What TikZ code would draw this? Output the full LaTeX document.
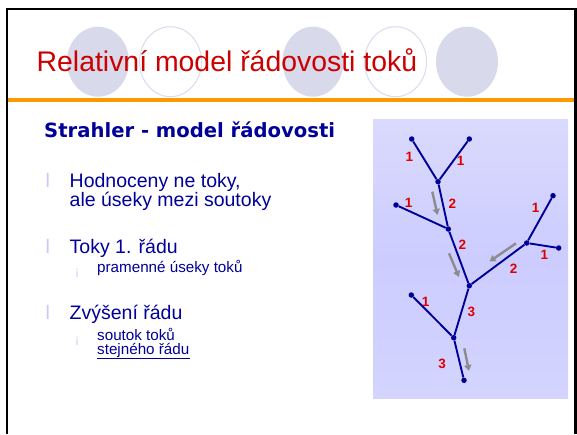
\documentclass[tikz,border=0pt]{standalone}
\usepackage{fontspec}
\setmainfont{Liberation Sans}
\newfontfamily\headfont{DejaVu Sans}
\usetikzlibrary{arrows.meta}
\definecolor{titlered}{RGB}{204,0,0}
\definecolor{txtblue}{RGB}{0,0,153}
\definecolor{treeblue}{RGB}{0,0,153}
\definecolor{lav}{RGB}{217,217,236}
\definecolor{lavline}{RGB}{218,218,240}
\definecolor{bulletc}{RGB}{200,200,250}
\definecolor{orangec}{RGB}{255,153,0}
\definecolor{arrgray}{RGB}{140,140,140}
\definecolor{numred}{RGB}{220,0,0}
\definecolor{sb}{RGB}{220,220,255}
\definecolor{sm}{RGB}{204,204,255}
\definecolor{st}{RGB}{232,232,252}
\pgfdeclareverticalshading{boxshade}{100bp}{color(0bp)=(sb); color(50bp)=(sm); color(100bp)=(st)}
\begin{document}
\begin{tikzpicture}[x=1pt,y=-1pt,
  txt/.style={anchor=base west,inner sep=0,text=txtblue},
  big/.style={txt,font=\fontsize{19.5}{17}\selectfont},
  small/.style={txt,font=\fontsize{15.2}{13}\selectfont},
  bul/.style={anchor=base west,inner sep=0,text=bulletc,font=\fontsize{19.5}{17}\selectfont},
  subbul/.style={anchor=base west,inner sep=0,text=bulletc,font=\fontsize{12}{13}\selectfont},
  dot/.style={circle,fill=treeblue,inner sep=0,minimum size=5.5pt},
  river/.style={draw=treeblue,line width=1.9pt},
  num/.style={text=numred,font=\bfseries\fontsize{13.5}{14}\selectfont,inner sep=0},
  flow/.style={draw=arrgray,line width=2.4pt,-{Triangle[length=6pt,width=7pt]}}]
\useasboundingbox (0,0) rectangle (577,434);
\fill[white] (0,0) rectangle (577,434);
% title circles
\fill[lav] (98,61.7) ellipse [x radius=31, y radius=35];
\draw[lavline,line width=1pt,fill=white] (170.5,61.7) ellipse [x radius=31, y radius=35];
\fill[lav] (313,61.7) ellipse [x radius=30.5, y radius=35];
\draw[lavline,line width=1pt,fill=white] (395.5,61.7) ellipse [x radius=31, y radius=35];
\fill[lav] (467,61.7) ellipse [x radius=31, y radius=35];
% frame
\draw[black,line width=2.5pt] (7,434) -- (7,9) -- (575.5,9) -- (575.5,434);
\draw[orangec,line width=3.5pt] (8.2,99.8) -- (574.2,99.8);
% title
\node[anchor=base west,inner sep=0,text=titlered,font=\fontsize{28.4}{30}\selectfont] (title) at (36.5,71) {Relativní model řádovosti toků};
% left text
\node[txt,font=\headfont\bfseries\fontsize{19.6}{20}\selectfont] (head) at (44,137.7) {Strahler - model řádovosti};
\node[bul] (b1) at (45.5,187) {l};
\node[big,anchor=north west,align=left] (t1) at (69.5,172.9) {Hodnoceny ne toky,\\ale úseky mezi soutoky};
\node[bul] (b2) at (45.5,253) {l};
\node[big] (t2) at (69.5,253) {Toky 1. řádu};
\node[subbul] (s2) at (75,275) {¡};
\node[small] (t2s) at (97,272) {pramenné úseky toků};
\node[bul] (b3) at (45.5,319.5) {l};
\node[big] (t3) at (69.5,319.5) {Zvýšení řádu};
\node[subbul] (s3) at (75,343) {¡};
\node[small] (t3a) at (97,340) {soutok toků};
\node[small] (t3b) at (97,354.2) {stejného řádu};
\draw[txtblue,line width=1.4pt] ([yshift=-4.3pt]t3b.base west) -- ([yshift=-4.3pt]t3b.base east);
% diagram box
\fill[shading=boxshade] (373,119) rectangle (568,398);
% tree nodes
\node[dot] (A) at (411.7,139) {};
\node[dot] (B) at (469.3,139) {};
\node[dot] (C) at (438,181.7) {};
\node[dot] (D) at (396,205) {};
\node[dot] (E) at (448.3,229) {};
\node[dot] (F) at (553,195.7) {};
\node[dot] (G) at (526.7,243) {};
\node[dot] (H) at (558.7,248) {};
\node[dot] (I) at (469.3,285.7) {};
\node[dot] (J) at (411.3,295) {};
\node[dot] (K) at (453.7,337.7) {};
\node[dot] (L) at (464,380.3) {};
\draw[river] (A) -- (C) (B) -- (C) (C) -- (E) (D) -- (E) (E) -- (I)
  (F) -- (G) (H) -- (G) (G) -- (I) (I) -- (K) (J) -- (K) (K) -- (L);
% order labels
\node[num] (n1) at (409.3,156.7) {1};
\node[num] (n2) at (460.7,160.7) {1};
\node[num] (n3) at (452.3,203.3) {2};
\node[num] (n4) at (408.7,203.3) {1};
\node[num] (n5) at (462.3,245) {2};
\node[num] (n6) at (535.7,208.3) {1};
\node[num] (n7) at (544.3,255) {1};
\node[num] (n8) at (513.7,269) {2};
\node[num] (n9) at (425.7,302.3) {1};
\node[num] (n10) at (471.3,312.3) {3};
\node[num] (n11) at (442,363.7) {3};
% flow arrows
\coordinate (a1s) at (432.3,191.7); \coordinate (a1e) at (437.5,215);
\coordinate (a2s) at (449,253.3);   \coordinate (a2e) at (459,277);
\coordinate (a3s) at (516,243.3);   \coordinate (a3e) at (489.5,261.5);
\coordinate (a4s) at (464.3,348.3); \coordinate (a4e) at (469,371);
\draw[flow] (a1s) -- (a1e);
\draw[flow] (a2s) -- (a2e);
\draw[flow] (a3s) -- (a3e);
\draw[flow] (a4s) -- (a4e);
\end{tikzpicture}
\end{document}
